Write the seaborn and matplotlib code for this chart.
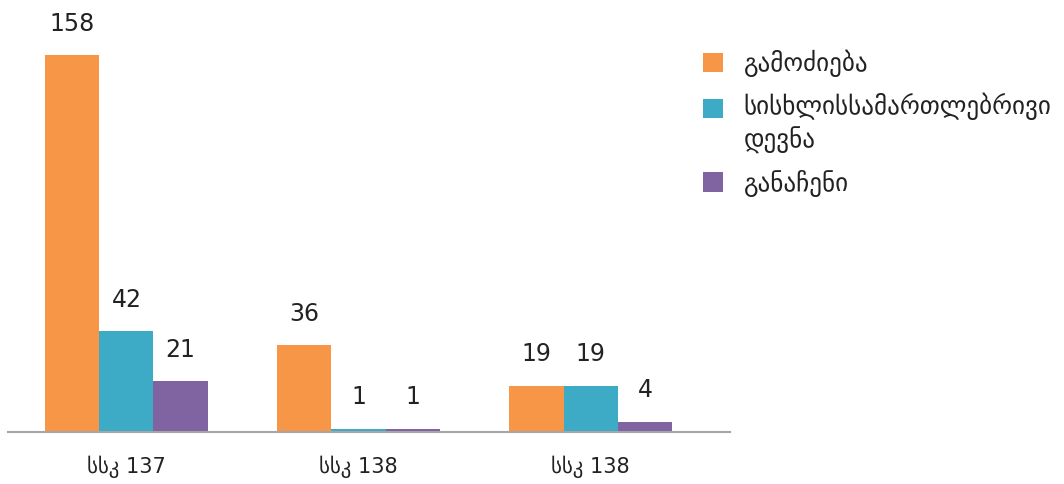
import matplotlib
matplotlib.use("Agg")
import matplotlib.pyplot as plt
import seaborn as sns
import pandas as pd
from matplotlib.patches import Patch, Rectangle
from matplotlib.legend_handler import HandlerPatch

categories = ["სსკ 137", "სსკ 138", "სსკ 138"]
series_names = ["გამოძიება", "სისხლისსამართლებრივი\nდევნა", "განაჩენი"]
investigation = [158, 36, 19]
prosecution = [42, 1, 19]
verdict = [21, 1, 4]
colors = ["#F79646", "#3EABC6", "#8064A2"]

rows = []
for i, cat in enumerate(categories):
    for name, vals in zip(series_names, [investigation, prosecution, verdict]):
        rows.append({"pos": i, "series": name, "value": vals[i]})
df = pd.DataFrame(rows)

sns.set_style("white")
plt.rcParams['font.family'] = ['DejaVu Sans']

fig = plt.figure(figsize=(10.64, 4.84), dpi=100)
ax = fig.add_axes([8/1064, 52/484, 722/1064, 432/484])
sns.barplot(data=df, x="pos", y="value", hue="series", hue_order=series_names,
            palette=colors, width=0.7, ax=ax, legend=False, saturation=1,
            linewidth=0, edgecolor="none", zorder=3)

ax.set_ylim(-0.4, 181.1)
ax.set_xlim(-0.51, 2.6)
for s in ["top", "right", "left"]:
    ax.spines[s].set_visible(False)
ax.spines["bottom"].set_color("#a6a6a6")
ax.spines["bottom"].set_linewidth(1.5)
ax.spines["bottom"].set_zorder(1)
ax.set_yticks([])
ax.set_xticks(range(len(categories)))
ax.set_xticklabels(categories, fontsize=15, color="#222222")
ax.tick_params(axis="x", length=0, pad=17)
ax.set_xlabel("")
ax.set_ylabel("")

for cont in ax.containers:
    for bar in cont:
        h = bar.get_height()
        ax.annotate(f"{int(h)}", (bar.get_x() + bar.get_width()/2, h),
                    xytext=(0, 14), textcoords="offset points",
                    ha="center", va="bottom", fontsize=17, color="#222222")


class TopAlignedHandler(HandlerPatch):
    def __init__(self, shift=0.0, **kw):
        super().__init__(**kw)
        self.shift = shift

    def create_artists(self, legend, orig_handle, xdescent, ydescent, width,
                       height, fontsize, trans):
        p = Rectangle((-xdescent, -ydescent + self.shift * fontsize), width, height)
        self.update_prop(p, orig_handle, legend)
        p.set_transform(trans)
        return [p]


handles = [Patch(facecolor=c, edgecolor="none") for c in colors]
handler_map = {handles[0]: TopAlignedHandler(0.0),
               handles[1]: TopAlignedHandler(0.62),
               handles[2]: TopAlignedHandler(0.0)}
leg = fig.legend(handles, series_names, loc="upper left",
                 bbox_to_anchor=(680/1064, 1 - 27/484), frameon=False,
                 fontsize=18, handlelength=0.8, handleheight=0.8,
                 handletextpad=0.85, labelspacing=0.62, labelcolor="#222222",
                 handler_map=handler_map)
for t in leg.get_texts():
    t.set_linespacing(1.35)

fig.savefig("out.png", dpi=100)
